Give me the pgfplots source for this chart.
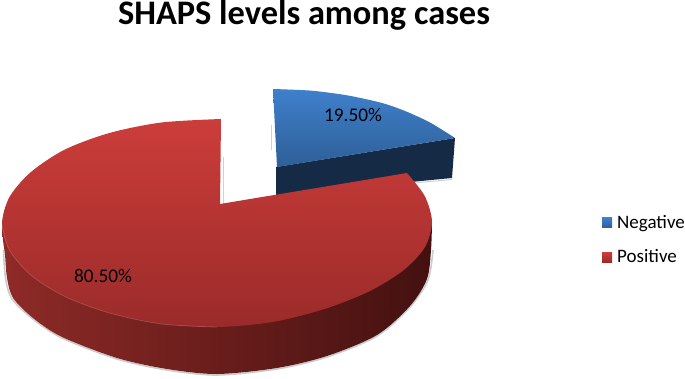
\documentclass[border=0pt]{standalone}
\usepackage{pgfplots}
\pgfplotsset{compat=1.18}
\usepackage{fontspec}
\setmainfont{Carlito}
\definecolor{bltop}{HTML}{3F80CC}
\definecolor{blbot}{HTML}{2E5F97}
\definecolor{blside}{HTML}{152A45}
\definecolor{rdtop}{HTML}{CC3D3A}
\definecolor{rdbot}{HTML}{9A2B2A}
\definecolor{sdl}{HTML}{8F2A27}
\definecolor{sdm}{HTML}{4C1513}
\definecolor{sdr}{HTML}{431110}
\begin{document}
\begin{tikzpicture}[x=1pt,y=1pt]
\useasboundingbox (0,0) rectangle (685,379);
\begin{axis}[at={(0,0)},anchor=south west,scale only axis,width=685pt,height=379pt,
  xmin=0,xmax=685,ymin=0,ymax=379,y dir=reverse,hide axis,clip=false,
  legend cell align=left,
  legend style={at={(axis cs:602,213)},anchor=north west,draw=none,fill=none,
    font=\fontsize{19}{20}\selectfont,row sep=16pt,inner sep=0pt},
  legend image code/.code={\fill[#1] (0pt,-5pt) rectangle (10pt,5pt);\path (13pt,0pt);}]
% soft shadows
\addplot[forget plot,draw=black!18,line width=1.5pt] coordinates {(271.5,125)(271.5,150)};
\addplot[forget plot,draw=black!18,line width=1pt] coordinates {(223.5,157)(223.5,204)};
\addplot[forget plot,draw=black!18,line width=1pt] coordinates {(380,186)(452,179.5)};
\addplot[forget plot,smooth,draw=black!20,line width=1.6pt] coordinates {
 (3.5,250)(5.5,278)(12,299)(33,319)(62,338)(117,359)(167,370)(217,375)(277,369)(327,357)(377,336)(410,307)(428,280)(433,250)};
% blue slice
\addplot[forget plot,draw=none,fill=blside] coordinates {(455,138)(452,178)(276,195)(276,167)} --cycle;
\addplot[smooth,draw=none,top color=bltop,bottom color=blbot] coordinates {
 (273,89)(295,89.8)(315,91)(348,95.5)(382,103)(405,111)(430,122.5)(455,138)} -- (axis cs:277,167) --cycle;
\addlegendentry{Negative}
% red side
\addplot[forget plot,smooth,draw=none,left color=sdl,middle color=sdm,right color=sdr] coordinates {
 (2,224)(3,240)(5,255)(7,278)(13,298)(33,318)(62,337)(117,358)(167,369)(217,374)(277,368)(327,356)(377,335)(410,306)(427,279)(431,250)(432,222)} --cycle;
% red top
\addplot[smooth,draw=none,top color=rdtop,bottom color=rdbot] coordinates {
 (221,119)(161.4,122.5)(109.5,133)(65,149.5)(31,172)(9.5,197)(2,224)(9.3,249.9)(30.8,275)(65,296.5)(109.5,313)(161.4,324)(217,327)(272.6,322)(324.5,309)(369,291.5)(403.2,270.5)(424.7,247.5)(432,222)(424.7,196)(407,173)} -- (axis cs:220,204) --cycle;
\addlegendentry{Positive}
% rim highlight
\addplot[forget plot,smooth,draw=white,opacity=.16,line width=.8pt] coordinates {
 (2,224)(9.3,249.9)(30.8,275)(65,296.5)(109.5,313)(161.4,324)(217,327)};
\node[font=\fontsize{19.3}{21}\selectfont] at (axis cs:103,276) {80.50\%};
\node[font=\fontsize{19.3}{21}\selectfont] at (axis cs:353,115.5) {19.50\%};
\node[anchor=base,font=\bfseries\fontsize{34.4}{38}\selectfont] at (axis cs:304,25) {SHAPS levels among cases};
\end{axis}
\end{tikzpicture}
\end{document}
